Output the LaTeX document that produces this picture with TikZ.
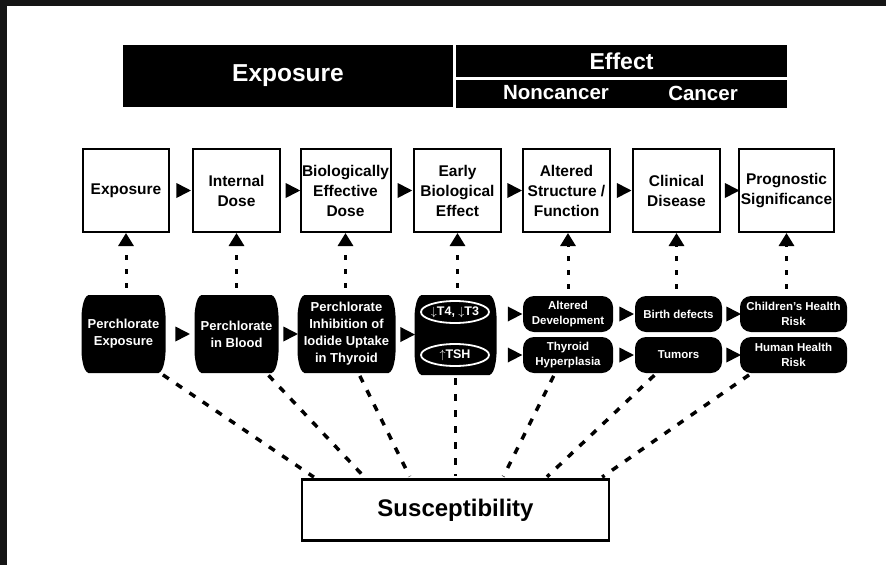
\documentclass[tikz,border=0pt]{standalone}
\usepackage{fontspec}
\setmainfont{Liberation Sans}
\usetikzlibrary{arrows.meta,shapes.geometric}

\definecolor{framegray}{HTML}{151515}

\begin{document}
\begin{tikzpicture}[x=1pt,y=-1pt,
  hdr/.style={fill=black,text=white,inner sep=0pt,font=\fontsize{23}{27}\selectfont\bfseries},
  stage/.style={draw,line width=2pt,fill=white,minimum width=#1,minimum height=83pt,inner sep=0pt,align=center,font=\fontsize{15.5}{20}\selectfont\bfseries},
  barrel/.style={minimum width=#1,minimum height=78pt,inner sep=0pt,align=center,text=white,font=\fontsize{13}{17}\selectfont\bfseries,
    path picture={\fill
      ([xshift=7pt]path picture bounding box.north west) -- ([xshift=-7pt]path picture bounding box.north east)
      .. controls ([xshift=-1pt,yshift=-2pt]path picture bounding box.north east) and ([xshift=1pt,yshift=-18pt]path picture bounding box.north east) ..
      (path picture bounding box.east)
      .. controls ([xshift=1pt,yshift=18pt]path picture bounding box.south east) and ([xshift=-1pt,yshift=2pt]path picture bounding box.south east) ..
      ([xshift=-7pt]path picture bounding box.south east) -- ([xshift=7pt]path picture bounding box.south west)
      .. controls ([xshift=1pt,yshift=2pt]path picture bounding box.south west) and ([xshift=-1pt,yshift=18pt]path picture bounding box.south west) ..
      (path picture bounding box.west)
      .. controls ([xshift=-1pt,yshift=-18pt]path picture bounding box.north west) and ([xshift=1pt,yshift=-2pt]path picture bounding box.north west) ..
      cycle;}},
  pill/.style={rounded corners=11pt,fill=black,text=white,minimum width=#1,minimum height=36pt,inner sep=0pt,align=center,font=\fontsize{11.5}{14.5}\selectfont\bfseries},
  oval/.style={ellipse,draw=white,line width=1.8pt,minimum width=68pt,minimum height=22pt,inner xsep=-8pt,inner ysep=-3pt,text=white,font=\fontsize{12.5}{15}\selectfont\bfseries},
  tri/.style={isosceles triangle,isosceles triangle stretches,fill=black,inner sep=0pt,minimum width=15pt,minimum height=14.5pt},
  up/.style={dash pattern=on 4.5pt off 9.5pt,line width=3pt,-{Triangle[length=13pt,width=15pt]},shorten <=7pt},
  sus/.style={dash pattern=on 7pt off 9pt,line width=3.5pt,shorten <=3pt,shorten >=2pt}]
\useasboundingbox (0,0) rectangle (886,565);
\fill[framegray] (0,0) rectangle (886,6);
\fill[framegray] (0,0) rectangle (7,565);

\node[hdr,minimum width=330pt,minimum height=62pt,font=\fontsize{24.5}{28}\selectfont\bfseries] (hexp) at (288,76) {Exposure};
\node[hdr,minimum width=331pt,minimum height=32pt] (heff) at (621.5,61) {Effect};
\node[hdr,minimum width=331pt,minimum height=28pt] (hsub) at (621.5,94) {};
\node[hdr,font=\fontsize{20.5}{24}\selectfont\bfseries] (hnc) at (556,93) {Noncancer};
\node[hdr,font=\fontsize{20.5}{24}\selectfont\bfseries] (hca) at (703,93) {Cancer};

\node[stage=86pt] (ex) at (126,190.5) {Exposure};
\node[stage=87pt] (id) at (236.5,190.5) {Internal\\Dose};
\node[stage=90pt] (be) at (345.5,190.5) {Biologically\\Effective\\Dose};
\node[stage=87pt] (eb) at (457.5,190.5) {Early\\Biological\\Effect};
\node[stage=87pt] (as) at (566.5,190.5) {Altered\\Structure /\\Function};
\node[stage=87pt] (cd) at (676.5,190.5) {Clinical\\Disease};
\node[stage=95pt] (ps) at (786.5,190.5) {Prognostic\\Significance};

\node[barrel=84pt] (pe) at (123.5,334) {Perchlorate\\Exposure};
\node[barrel=84pt] (pb) at (236.5,334) {Perchlorate\\in Blood};
\node[barrel=98pt] (pi) at (346.5,334) {Perchlorate\\Inhibition of\\Iodide Uptake\\in Thyroid};
\node[barrel=82pt,minimum height=80pt] (tsh) at (455.5,335) {};
\node[oval] (o1) at (455,312) {$\downarrow$T4, $\downarrow$T3};
\node[oval] (o2) at (455,355) {$\uparrow$TSH};

\node[pill=90pt] (ad) at (568,314) {Altered\\Development};
\node[pill=90pt] (th) at (568,355) {Thyroid\\Hyperplasia};
\node[pill=87pt] (bd) at (678.5,314) {Birth defects};
\node[pill=87pt] (tu) at (678.5,355) {Tumors};
\node[pill=107pt] (ch) at (793.5,314) {Children's Health\\Risk};
\node[pill=107pt] (hh) at (793.5,355) {Human Health\\Risk};

\node[draw,line width=2.5pt,minimum width=307pt,minimum height=61pt,font=\fontsize{24}{28}\selectfont\bfseries] (su) at (455.5,510) {Susceptibility};

\path (ex) -- node[tri] (a1) {} (id);
\path (id) -- node[tri] (a2) {} (be);
\path (be) -- node[tri] (a3) {} (eb);
\path (eb) -- node[tri] (a4) {} (as);
\path (as) -- node[tri] (a5) {} (cd);
\path (cd) -- node[tri] (a6) {} (ps);

\path (pe) -- node[tri] (b1) {} (pb);
\path (pb) -- node[tri] (b2) {} (pi);
\path (pi) -- node[tri] (b3) {} (tsh);
\path (tsh.east |- ad.west) -- node[tri,pos=0.6] (b4) {} (ad.west);
\path (tsh.east |- th.west) -- node[tri,pos=0.6] (b5) {} (th.west);
\path (ad) -- node[tri] (b6) {} (bd);
\path (th) -- node[tri] (b7) {} (tu);
\path (bd) -- node[tri] (b8) {} (ch);
\path (tu) -- node[tri] (b9) {} (hh);

\draw[up] (ex.south |- pe.north) -- (ex.south);
\draw[up] (id.south |- pb.north) -- (id.south);
\draw[up] (be.south |- pi.north) -- (be.south);
\draw[up] (eb.south |- tsh.north) -- (eb.south);
\draw[up] (ad.north) -- (ad.north |- as.south);
\draw[up] (cd.south |- bd.north) -- (cd.south);
\draw[up] (ps.south |- ch.north) -- (ps.south);

\draw[sus] ([xshift=37pt]pe.south) -- ([xshift=-140pt]su.north);
\draw[sus] ([xshift=30pt]pb.south) -- ([xshift=-90pt]su.north);
\draw[sus] ([xshift=12pt]pi.south) -- ([xshift=-45pt]su.north);
\draw[sus] (tsh.south) -- (su.north);
\draw[sus] ([xshift=-13pt]th.south) -- ([xshift=47pt]su.north);
\draw[sus] ([xshift=-22pt]tu.south) -- ([xshift=90pt]su.north);
\draw[sus] ([xshift=-42pt]hh.south) -- ([xshift=145pt]su.north);
\end{tikzpicture}
\end{document}
